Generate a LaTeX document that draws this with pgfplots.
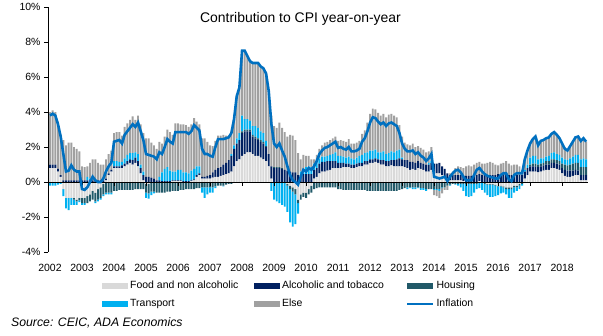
\documentclass[border=0pt]{standalone}
\usepackage{pgfplots}
\pgfplotsset{compat=1.18}
\usepackage{pgfplotstable}
\usepackage{fontspec}
\setmainfont{Liberation Sans}
\definecolor{cfood}{RGB}{217,217,217}
\definecolor{calc}{RGB}{0,32,96}
\definecolor{chous}{RGB}{33,89,104}
\definecolor{ctrans}{RGB}{0,176,240}
\definecolor{coth}{RGB}{160,160,160}
\definecolor{cinfl}{RGB}{0,112,192}

\pgfplotstableread{
i food alc hous trans oth infl
0 0.8 0.2 0.0 -0.2 3.0 3.8
1 0.8 0.2 0.0 -0.2 3.1 3.9
2 0.8 0.2 0.0 -0.2 3.0 3.8
3 0.6 0.15 0.0 -0.15 2.7 3.3
4 0.3 0.1 0.0 -0.1 2.3 2.6
5 -0.4 0.1 0.0 -0.4 2.3 1.6
6 -0.9 0.1 0.0 -0.6 2.0 0.6
7 -0.9 0.1 0.0 -0.7 2.15 0.65
8 -0.9 0.1 0.0 -0.4 2.15 0.95
9 -0.9 0.1 -0.1 -0.3 1.9 0.7
10 -1.0 0.1 -0.1 -0.2 1.8 0.6
11 -0.9 0.1 -0.15 -0.1 1.65 0.6
12 -0.9 0.1 -0.3 -0.1 0.8 -0.4
13 -0.9 0.1 -0.3 -0.1 0.75 -0.45
14 -0.8 0.1 -0.4 0.2 0.6 -0.3
15 -0.7 0.1 -0.4 0.1 0.9 0.0
16 -0.5 0.1 -0.5 0.0 1.2 0.3
17 -0.6 0.1 -0.5 -0.1 1.2 0.1
18 -0.4 0.1 -0.6 -0.1 1.0 0.0
19 -0.3 0.1 -0.6 -0.1 0.9 0.0
20 -0.1 0.1 -0.6 -0.1 0.9 0.2
21 0.1 0.1 -0.6 -0.1 1.1 0.6
22 0.4 0.1 -0.6 -0.1 1.1 0.9
23 0.6 0.1 -0.6 -0.1 1.1 1.1
24 0.8 0.1 -0.5 0.3 1.6 2.3
25 0.8 0.1 -0.5 0.3 1.65 2.35
26 0.8 0.1 -0.45 0.25 1.7 2.4
27 0.8 0.15 -0.45 0.2 1.5 2.2
28 0.9 0.15 -0.45 0.3 1.8 2.7
29 1.0 0.2 -0.45 0.35 1.8 2.9
30 1.1 0.2 -0.45 0.35 1.9 3.1
31 1.0 0.25 -0.45 0.4 2.1 3.3
32 1.1 0.3 -0.4 0.3 1.85 3.15
33 0.9 0.3 -0.4 0.4 2.2 3.4
34 0.5 0.3 -0.4 0.2 2.3 2.9
35 0.1 0.3 -0.4 0.2 2.2 2.4
36 -0.1 0.3 -0.5 -0.3 2.2 1.6
37 -0.1 0.3 -0.55 -0.3 2.2 1.55
38 -0.05 0.25 -0.5 -0.2 2.0 1.5
39 0.0 0.2 -0.55 -0.1 1.9 1.45
40 0.0 0.1 -0.6 0.0 1.8 1.3
41 0.0 0.1 -0.6 0.2 2.0 1.7
42 0.0 0.05 -0.6 0.5 1.65 1.6
43 0.0 0.05 -0.6 0.7 1.85 2.0
44 0.0 0.05 -0.55 0.8 2.15 2.45
45 0.0 0.05 -0.55 0.6 2.2 2.3
46 0.05 0.05 -0.5 0.5 2.1 2.2
47 0.05 0.05 -0.5 0.5 2.75 2.85
48 0.05 0.05 -0.5 0.6 2.65 2.85
49 0.05 0.05 -0.45 0.6 2.6 2.85
50 0.0 0.05 -0.45 0.5 2.75 2.85
51 0.0 0.05 -0.4 0.5 2.7 2.85
52 0.0 0.05 -0.4 0.45 2.65 2.75
53 0.05 0.05 -0.4 0.55 2.65 2.9
54 0.1 0.05 -0.4 0.6 2.9 3.25
55 0.3 0.1 -0.35 0.5 2.55 3.1
56 0.4 0.1 -0.35 0.4 2.4 2.95
57 0.2 0.1 -0.3 -0.3 2.2 1.9
58 0.2 0.1 -0.3 -0.6 2.2 1.6
59 0.2 0.15 -0.3 -0.4 1.95 1.6
60 0.2 0.2 -0.3 -0.3 1.7 1.5
61 0.25 0.3 -0.3 -0.3 1.5 1.45
62 0.3 0.4 -0.25 -0.1 1.65 2.0
63 0.3 0.5 -0.2 0.0 1.85 2.45
64 0.35 0.5 -0.2 0.0 1.8 2.45
65 0.4 0.6 -0.2 -0.05 1.7 2.45
66 0.45 0.65 -0.15 0.0 1.55 2.5
67 0.5 0.75 -0.1 0.0 1.4 2.55
68 0.6 0.9 -0.1 0.1 1.3 2.8
69 0.9 1.0 -0.05 0.2 1.55 3.6
70 1.2 1.0 0.0 0.3 2.4 4.9
71 1.3 1.1 0.0 0.4 2.6 5.4
72 1.5 1.3 0.1 0.9 3.7 7.5
73 1.6 1.3 0.1 0.6 3.9 7.5
74 1.7 1.2 0.1 0.6 3.6 7.2
75 1.7 1.2 0.1 0.5 3.4 6.9
76 1.6 1.0 0.1 0.5 3.6 6.8
77 1.5 1.0 0.1 0.6 3.6 6.8
78 1.5 0.9 0.1 0.6 3.7 6.8
79 1.4 0.9 0.1 0.5 3.7 6.6
80 1.3 0.9 0.1 0.5 3.7 6.5
81 1.2 0.8 0.05 0.3 3.85 6.2
82 0.9 0.7 0.0 0.0 3.6 5.2
83 0.2 0.7 0.0 -0.5 2.9 3.3
84 0.0 0.8 0.05 -1.0 2.35 2.2
85 0.0 0.8 0.05 -1.1 2.25 2.0
86 0.0 0.8 0.05 -1.2 2.55 2.2
87 0.0 0.75 0.05 -1.3 2.3 1.8
88 0.0 0.7 0.0 -1.4 2.15 1.45
89 -0.1 0.65 -0.1 -1.5 1.95 0.9
90 -0.2 0.6 -0.2 -1.9 2.1 0.4
91 -0.3 0.55 -0.25 -2.0 2.1 0.1
92 -0.4 0.55 -0.3 -1.7 1.85 0.0
93 -1.0 0.4 -0.2 -0.6 1.25 -0.15
94 -0.7 0.4 -0.3 0.2 0.7 0.3
95 -0.6 0.45 -0.25 0.3 0.8 0.7
96 -0.6 0.45 -0.3 0.4 0.65 0.6
97 -0.4 0.45 -0.3 0.45 0.6 0.8
98 -0.2 0.45 -0.4 0.4 0.45 0.7
99 0.2 0.5 -0.4 0.35 0.25 0.9
100 0.3 0.5 -0.35 0.35 0.4 1.2
101 0.5 0.55 -0.3 0.3 0.55 1.6
102 0.6 0.55 -0.3 0.3 0.65 1.8
103 0.6 0.55 -0.3 0.3 0.8 1.95
104 0.65 0.55 -0.3 0.3 0.8 2.0
105 0.7 0.5 -0.3 0.35 0.85 2.1
106 0.8 0.4 -0.3 0.4 0.9 2.2
107 0.8 0.4 -0.3 0.5 0.9 2.3
108 0.8 0.3 -0.4 0.4 0.85 1.95
109 0.8 0.3 -0.4 0.4 0.9 2.0
110 0.85 0.25 -0.45 0.35 0.9 1.9
111 0.85 0.2 -0.45 0.35 0.9 1.85
112 0.85 0.2 -0.45 0.4 1.0 2.0
113 0.8 0.2 -0.45 0.35 0.85 1.75
114 0.8 0.2 -0.45 0.3 0.9 1.75
115 0.85 0.2 -0.45 0.35 0.85 1.8
116 0.9 0.2 -0.45 0.4 0.85 1.9
117 0.9 0.2 -0.45 0.45 1.2 2.3
118 1.0 0.2 -0.45 0.45 1.3 2.5
119 1.0 0.2 -0.5 0.5 1.7 2.9
120 1.1 0.2 -0.5 0.5 2.1 3.4
121 1.1 0.2 -0.5 0.5 2.4 3.7
122 1.15 0.2 -0.5 0.5 2.3 3.65
123 1.1 0.2 -0.5 0.4 2.25 3.45
124 1.0 0.25 -0.5 0.45 2.1 3.3
125 1.0 0.25 -0.5 0.5 2.15 3.4
126 0.9 0.3 -0.5 0.4 2.1 3.2
127 0.9 0.3 -0.5 0.45 2.2 3.35
128 0.95 0.3 -0.5 0.5 2.15 3.4
129 0.9 0.35 -0.5 0.45 2.1 3.3
130 0.9 0.4 -0.5 0.5 1.9 3.2
131 0.9 0.45 -0.45 0.5 1.4 2.8
132 0.9 0.4 -0.4 0.1 1.2 2.2
133 0.85 0.4 -0.35 0.0 1.0 1.9
134 0.8 0.45 -0.3 -0.1 0.9 1.75
135 0.7 0.45 -0.3 -0.05 0.95 1.75
136 0.75 0.4 -0.3 -0.1 1.05 1.8
137 0.7 0.4 -0.3 -0.1 0.9 1.6
138 0.8 0.4 -0.3 -0.05 0.85 1.7
139 0.75 0.35 -0.35 -0.1 0.85 1.5
140 0.7 0.35 -0.35 -0.1 0.8 1.4
141 0.6 0.4 -0.4 -0.1 0.7 1.2
142 0.6 0.4 -0.4 0.1 0.65 1.35
143 0.7 0.4 -0.4 0.1 0.8 1.6
144 0.5 0.55 -0.4 -0.05 -0.3 0.3
145 0.5 0.55 -0.4 -0.05 -0.35 0.25
146 0.5 0.6 -0.4 -0.1 -0.4 0.2
147 0.4 0.5 -0.3 -0.05 -0.3 0.25
148 0.3 0.45 -0.3 0.0 -0.15 0.3
149 0.2 0.3 -0.2 0.0 -0.25 0.05
150 0.1 0.3 -0.15 -0.05 0.1 0.3
151 0.1 0.3 -0.1 0.0 0.2 0.5
152 0.1 0.3 -0.1 -0.05 0.4 0.65
153 0.1 0.3 -0.1 -0.1 0.5 0.7
154 0.1 0.3 -0.1 -0.2 0.45 0.55
155 0.05 0.3 -0.1 -0.4 0.45 0.3
156 0.0 0.35 -0.1 -0.7 0.55 0.1
157 0.0 0.35 -0.1 -0.75 0.6 0.1
158 0.0 0.35 -0.1 -0.7 0.55 0.1
159 0.0 0.4 -0.1 -0.5 0.6 0.4
160 0.0 0.4 -0.1 -0.3 0.7 0.7
161 0.05 0.4 -0.05 -0.3 0.7 0.8
162 0.0 0.4 -0.05 -0.4 0.65 0.6
163 -0.05 0.4 -0.05 -0.5 0.65 0.45
164 -0.1 0.4 -0.05 -0.6 0.7 0.35
165 -0.1 0.4 -0.05 -0.7 0.75 0.3
166 -0.1 0.4 -0.05 -0.7 0.7 0.25
167 -0.15 0.4 -0.05 -0.6 0.6 0.2
168 -0.2 0.45 -0.05 -0.5 0.5 0.2
169 -0.2 0.45 -0.05 -0.4 0.6 0.4
170 -0.25 0.45 -0.05 -0.3 0.65 0.5
171 -0.3 0.45 -0.1 -0.3 0.75 0.5
172 -0.3 0.4 -0.1 -0.5 0.65 0.15
173 -0.3 0.4 -0.1 -0.5 0.55 0.05
174 -0.2 0.4 -0.1 -0.3 0.6 0.4
175 -0.2 0.4 -0.1 -0.2 0.6 0.5
176 -0.1 0.4 -0.1 -0.2 0.5 0.5
177 0.0 0.4 -0.1 -0.1 0.3 0.5
178 0.2 0.4 0.0 0.1 0.6 1.3
179 0.4 0.4 0.0 0.2 0.8 1.8
180 0.6 0.3 0.1 0.4 0.8 2.2
181 0.6 0.3 0.15 0.45 0.95 2.45
182 0.6 0.3 0.15 0.45 1.1 2.6
183 0.55 0.3 0.15 0.3 0.8 2.1
184 0.6 0.3 0.15 0.3 1.0 2.35
185 0.65 0.3 0.15 0.25 1.05 2.4
186 0.7 0.3 0.2 0.25 1.05 2.5
187 0.7 0.3 0.2 0.3 1.05 2.55
188 0.8 0.3 0.2 0.35 1.1 2.75
189 0.8 0.3 0.2 0.4 1.15 2.85
190 0.75 0.3 0.2 0.35 1.1 2.7
191 0.7 0.3 0.2 0.35 0.95 2.5
192 0.5 0.3 0.25 0.35 0.8 2.2
193 0.35 0.35 0.3 0.3 0.6 1.9
194 0.3 0.35 0.3 0.3 0.55 1.8
195 0.3 0.35 0.35 0.35 0.7 2.05
196 0.35 0.3 0.4 0.4 0.85 2.3
197 0.4 0.3 0.4 0.45 1.0 2.55
198 0.4 0.25 0.45 0.45 1.05 2.6
199 0.1 0.3 0.45 0.45 1.05 2.35
200 0.1 0.3 0.45 0.5 1.15 2.5
201 0.1 0.3 0.45 0.45 1.0 2.3
}\data

\pgfplotsset{
  base/.style={scale only axis, width=540bp, height=245bp,
    xmin=-0.75, xmax=201.7, ymin=-4, ymax=10, at={(0,0)}, anchor=south west},
  barsty/.style={ybar stacked, bar width=0.72, hide axis},
}
\begin{document}
\begin{tikzpicture}[x=1bp,y=1bp]
\useasboundingbox (-48,-83) rectangle (555,252);
% negative parts
\begin{axis}[base, barsty]
\addplot[fill=cfood, draw=none] table[x=i, y expr={min(\thisrow{food},0)}]{\data};
\addplot[fill=calc, draw=none] table[x=i, y expr={min(\thisrow{alc},0)}]{\data};
\addplot[fill=chous, draw=none] table[x=i, y expr={min(\thisrow{hous},0)}]{\data};
\addplot[fill=ctrans, draw=none] table[x=i, y expr={min(\thisrow{trans},0)}]{\data};
\addplot[fill=coth, draw=none] table[x=i, y expr={min(\thisrow{oth},0)}]{\data};
\end{axis}
% positive parts
\begin{axis}[base, barsty]
\addplot[fill=cfood, draw=none] table[x=i, y expr={max(\thisrow{food},0)}]{\data};
\addplot[fill=calc, draw=none] table[x=i, y expr={max(\thisrow{alc},0)}]{\data};
\addplot[fill=chous, draw=none] table[x=i, y expr={max(\thisrow{hous},0)}]{\data};
\addplot[fill=ctrans, draw=none] table[x=i, y expr={max(\thisrow{trans},0)}]{\data};
\addplot[fill=coth, draw=none] table[x=i, y expr={max(\thisrow{oth},0)}]{\data};
\end{axis}
% line, axes, legend
\begin{axis}[base,
  axis x line*=bottom, axis y line*=left,
  axis line style={-},
  x axis line style={draw=none},
  y axis line style={black, line width=0.6bp},
  xtick style={draw=none},
  ytick style={black, line width=0.6bp},
  tick align=outside, major tick length=4bp,
  ytick={-4,-2,...,10},
  yticklabels={-4\%,-2\%,0\%,2\%,4\%,6\%,8\%,10\%},
  xtick={0,12,...,192},
  xticklabels={2002,2003,2004,2005,2006,2007,2008,2009,2010,2011,2012,2013,2014,2015,2016,2017,2018},
  ticklabel style={font=\fontsize{10.5}{12}\selectfont},
  xticklabel style={yshift=-5bp},
  legend columns=3,
  legend style={draw=none, fill=none, at={(0.1,-0.11)}, anchor=north west,
    font=\fontsize{10.5}{12}\selectfont, row sep=5bp, inner sep=0pt, cells={anchor=west}},
  legend image code/.code={\fill[#1] (0bp,-3bp) rectangle (26bp,3bp);},
]
\draw[black, line width=0.7bp] (axis cs:-0.75,0) -- (axis cs:201.7,0);
\pgfplotsinvokeforeach{12,24,...,192}{\draw[black, line width=0.6bp] (axis cs:#1,0) -- ++(0bp,-4bp);}
\addlegendimage{fill=cfood, draw=none}
\addlegendentry{\makebox[122bp][l]{Food and non alcoholic}}
\addlegendimage{fill=calc, draw=none}
\addlegendentry{\makebox[122bp][l]{Alcoholic and tobacco}}
\addlegendimage{fill=chous, draw=none}
\addlegendentry{\makebox[122bp][l]{Housing}}
\addlegendimage{fill=ctrans, draw=none}
\addlegendentry{\makebox[122bp][l]{Transport}}
\addlegendimage{fill=coth, draw=none}
\addlegendentry{\makebox[122bp][l]{Else}}
\addlegendimage{legend image code/.code={\draw[cinfl, line width=2.4bp] (0bp,0bp) -- (26bp,0bp);}}
\addlegendentry{\makebox[122bp][l]{Inflation}}
\addplot[cinfl, line width=2.6bp, no marks, forget plot] table[x=i, y=infl]{\data};
\node[font=\fontsize{14}{16}\selectfont] at (rel axis cs:0.4676,0.951) {Contribution to CPI year-on-year};
\end{axis}
\node[anchor=west, inner sep=0pt, font=\fontsize{12.3}{14}\selectfont\itshape] at (-37,-71) {Source: CEIC, ADA Economics};
\end{tikzpicture}
\end{document}
